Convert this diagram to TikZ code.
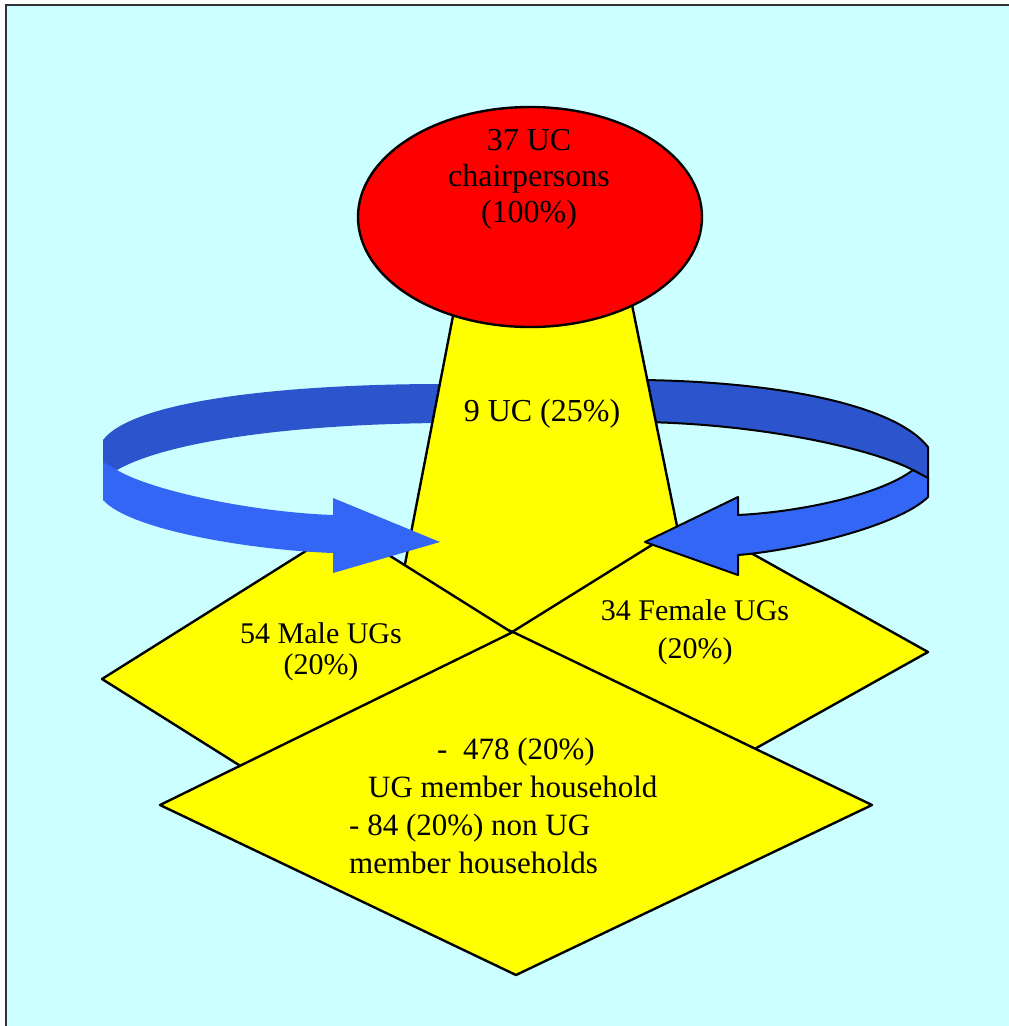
\documentclass[tikz,border=0pt]{standalone}
\usepackage{fontspec}
\setmainfont{Liberation Serif}
\usetikzlibrary{shapes.geometric}
\definecolor{bgcyan}{RGB}{204,255,255}
\definecolor{uyellow}{RGB}{255,255,0}
\definecolor{ured}{RGB}{255,0,0}
\definecolor{bdark}{RGB}{44,84,204}
\definecolor{blight}{RGB}{51,102,245}
\begin{document}
\begin{tikzpicture}[x=1pt,y=-1pt,
  ybox/.style={fill=uyellow,draw=black,line width=2.4pt,line join=round},
  lbl/.style={font=\fontsize{32}{36}\selectfont,inner sep=0pt,align=center,text=black},
  darkband/.style={fill=bdark},
  lightband/.style={fill=blight},
  outl/.style={draw=black,line width=2pt,line join=round},
]
\useasboundingbox (0,0) rectangle (1009,1026);
\fill[white] (0,0) rectangle (1009,1026);
\fill[bgcyan] (6,5) rectangle (1009,1026);
\draw[black!80,line width=1.5pt] (6,1026) -- (6,5) -- (1009,5);

% upper (back) bands of the arrows
\path[darkband] (442,384) .. controls (300,384) and (135,398) .. (103,440)
  -- (103,465) -- (117,470) .. controls (170,440) and (300,424) .. (442,423) -- cycle;
\path[darkband,outl] (643,380) .. controls (780,382) and (895,405) .. (928,447)
  -- (928,480) -- (913,470) .. controls (870,448) and (760,424) .. (643,422) -- cycle;

% stem
\path[ybox] (458,290) -- (400,590) -- (513,632) -- (690,590) -- (629,290) -- cycle;
% top ellipse
\node[ellipse,fill=ured,draw=black,line width=2.4pt,minimum width=344pt,minimum height=220pt,inner sep=0pt] (uc) at (530,217) {};

% side diamonds
\coordinate (mL) at (102,679);
\coordinate (mT) at (344,527);
\coordinate (mR) at (586,679);
\coordinate (mB) at (344,831);
\path[ybox] (mL) -- (mT) -- (mR) -- (mB) -- cycle;
\coordinate (fL) at (480,652);
\coordinate (fT) at (692,520);
\coordinate (fR) at (928,652);
\coordinate (fB) at (692,784);
\path[ybox] (fL) -- (fT) -- (fR) -- (fB) -- cycle;
% bottom diamond
\coordinate (bT) at (513,632);
\coordinate (bL) at (160,805);
\coordinate (bB) at (516,975);
\coordinate (bR) at (872,805);
\path[ybox] (bT) -- (bR) -- (bB) -- (bL) -- cycle;

% lower (front) bands with arrow heads
\path[lightband] (103,462) -- (103,500) .. controls (130,530) and (250,550) .. (333,553)
  -- (333,573) -- (440,542) -- (333,498) -- (333,515)
  .. controls (250,512) and (150,490) .. (117,470) -- cycle;
\path[lightband,outl] (928,478) -- (928,497) .. controls (900,525) and (800,550) .. (738,555)
  -- (738,575) -- (645,542) -- (738,497) -- (738,515)
  .. controls (800,512) and (880,495) .. (913,470) -- cycle;

% texts
\node[lbl] (tuc) at (529,179) {37 UC\\chairpersons\\(100\%)};
\node[lbl] (tstem) at (542,414) {9 UC (25\%)};
\node[lbl,font=\fontsize{30}{31}\selectfont] (tmale) at (321,652) {54 Male UGs\\(20\%)};
\node[lbl,font=\fontsize{30}{38}\selectfont] (tfemale) at (695,632) {34 Female UGs\\(20\%)};
\node[lbl,align=left,anchor=west,font=\fontsize{31}{38}\selectfont] (thh) at (349,806)
  {\hspace*{88pt}-\enspace 478 (20\%)\\\hspace*{19pt}UG member household\\- 84 (20\%) non UG\\member households};
\end{tikzpicture}
\end{document}
